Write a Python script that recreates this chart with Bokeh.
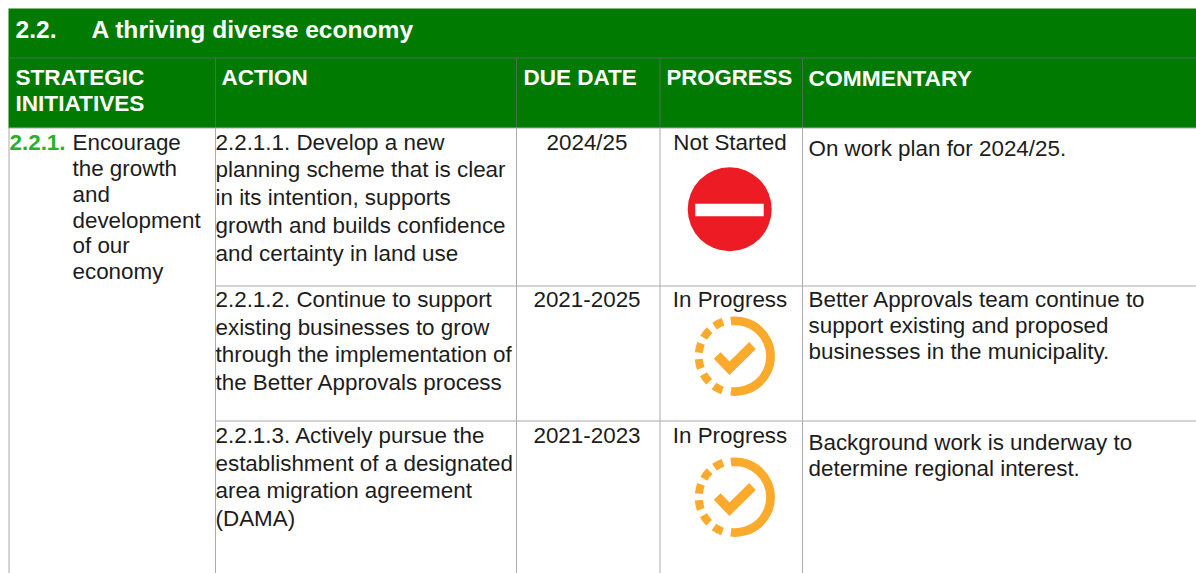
from bokeh.plotting import figure
from bokeh.embed import file_html
from bokeh.resources import INLINE
from bokeh.core.properties import value
from bokeh.models import ColumnDataSource
import numpy as np

# ---- content ----
title_no = "2.2."
title = "A thriving diverse economy"
headers = ["ACTION", "DUE DATE", "PROGRESS", "COMMENTARY"]
header_sizes = [22.5, 22.5, 22.2, 22.8]
header_first = ["STRATEGIC", "INITIATIVES"]
initiative_no = "2.2.1."
initiative = ["Encourage", "the growth", "and", "development", "of our", "economy"]
actions = [
    ["2.2.1.1. Develop a new", "planning scheme that is clear", "in its intention, supports",
     "growth and builds confidence", "and certainty in land use"],
    ["2.2.1.2. Continue to support", "existing businesses to grow",
     "through the implementation of", "the Better Approvals process"],
    ["2.2.1.3. Actively pursue the", "establishment of a designated",
     "area migration agreement", "(DAMA)"],
]
due = ["2024/25", "2021-2025", "2021-2023"]
progress = ["Not Started", "In Progress", "In Progress"]
commentary = [
    ["On work plan for 2024/25."],
    ["Better Approvals team continue to", "support existing and proposed", "businesses in the municipality."],
    ["Background work is underway to", "determine regional interest."],
]

# ---- layout (page pixels) ----
W, H = 1196, 573
col_x = [215, 516, 659.5, 802]
top_bar = 57.5
head_bot = 127.5
row_bot = [285.5, 420.5]
GREEN = "#007a00"
HEADLINE = "#4a7050"
GRID = "#ababab"
INK = "#1c1c1c"
ORANGE = "#fbaa2c"
RED = "#ed1c24"
FONT = "Liberation Sans"
TEXT_SHIFT = 8
TEXT_DX = -1

def Y(py):
    return H - py

p = figure(width=W, height=H, x_range=(0, W), y_range=(0, H),
           output_backend="svg", toolbar_location=None, min_border=0)
p.axis.visible = False
p.grid.visible = False
p.outline_line_color = None
p.background_fill_color = "white"
p.border_fill_color = "white"

p.quad(left=[8], right=[1196], top=[Y(8)], bottom=[Y(head_bot)], fill_color=GREEN, line_color=None)

p.segment(x0=[8], x1=[1196], y0=[Y(top_bar)], y1=[Y(top_bar)], line_color=HEADLINE, line_width=1)
p.segment(x0=col_x, x1=col_x, y0=[Y(top_bar)] * 4, y1=[Y(head_bot)] * 4, line_color=HEADLINE, line_width=1)
p.segment(x0=[8.5] + col_x, x1=[8.5] + col_x, y0=[Y(head_bot)] * 5, y1=[Y(573)] * 5, line_color=GRID, line_width=1)
p.segment(x0=[8], x1=[1196], y0=[Y(head_bot)], y1=[Y(head_bot)], line_color=GRID, line_width=1)
p.segment(x0=[col_x[0]] * 2, x1=[1196] * 2, y0=[Y(v) for v in row_bot], y1=[Y(v) for v in row_bot],
          line_color=GRID, line_width=1)

def put(xs, ys, texts, size, color=INK, bold=False, align="left"):
    src = ColumnDataSource(dict(x=[v + TEXT_DX for v in xs], y=[Y(v - TEXT_SHIFT) for v in ys], t=texts))
    p.text(x="x", y="y", text="t", source=src, text_font=value(FONT), text_font_size=value(f"{size}px"),
           text_font_style="bold" if bold else "normal", text_color=color, text_align=align,
           text_baseline="alphabetic")

put([16], [37], [title_no], 24.6, "white", True)
put([92], [37], [title], 24.6, "white", True)
put([16, 16], [85, 110.5], header_first, 22.6, "white", True)
for hx, txt, sz in zip([222, 524, 667, 809], headers, header_sizes):
    put([hx], [85], [txt], sz, "white", True)

put([10], [149.5], [initiative_no], 22.4, "#28b028", True)
put([73] * 6, [149.8, 175.8, 201.8, 227.8, 252.8, 278.8], initiative, 22.4)

action_base = [[149.5, 177.3, 205, 232.8, 260.6], [306.9, 334.5, 362.1, 389.7], [442.9, 470.5, 498.1, 525.7]]
for lines, base in zip(actions, action_base):
    put([216] * len(lines), base, lines, 22.4)

base_status = [149.5, 306.9, 442.9]
put([587.5] * 3, base_status, due, 22.4, align="center")
put([730.5] * 3, base_status, progress, 22.4, align="center")

comment_base = [[155.7], [306.9, 332.9, 358.9], [449.9, 475.9]]
for lines, base in zip(commentary, comment_base):
    put([809] * len(lines), base, lines, 22.4)

p.circle(x=[729.2], y=[Y(208.7)], radius=42, fill_color=RED, line_color=None)
p.quad(left=[694.7], right=[763.2], top=[Y(203.3)], bottom=[Y(215.7)], fill_color="white", line_color=None)

icon_cx = 734.7
icon_cy = [355.7, 496.7]
dash_angles = [117, 142, 167, 192, 217, 242]
for cy in icon_cy:
    p.annular_wedge(x=[icon_cx], y=[Y(cy)], inner_radius=31, outer_radius=39.7,
                    start_angle=[np.deg2rad(-97)], end_angle=[np.deg2rad(97)],
                    fill_color=ORANGE, line_color=None)
    p.annular_wedge(x=[icon_cx] * 6, y=[Y(cy)] * 6, inner_radius=32.5, outer_radius=40.5,
                    start_angle=[np.deg2rad(a - 7.5) for a in dash_angles],
                    end_angle=[np.deg2rad(a + 7.5) for a in dash_angles],
                    fill_color=ORANGE, line_color=None)
    p.line(x=[icon_cx - 18, icon_cx - 5.7, icon_cx + 17.3], y=[Y(cy - 0.7), Y(cy + 12), Y(cy - 10.7)],
           line_color=ORANGE, line_width=9.5, line_join="miter")

open("out.html", "w").write(file_html(p, INLINE))
